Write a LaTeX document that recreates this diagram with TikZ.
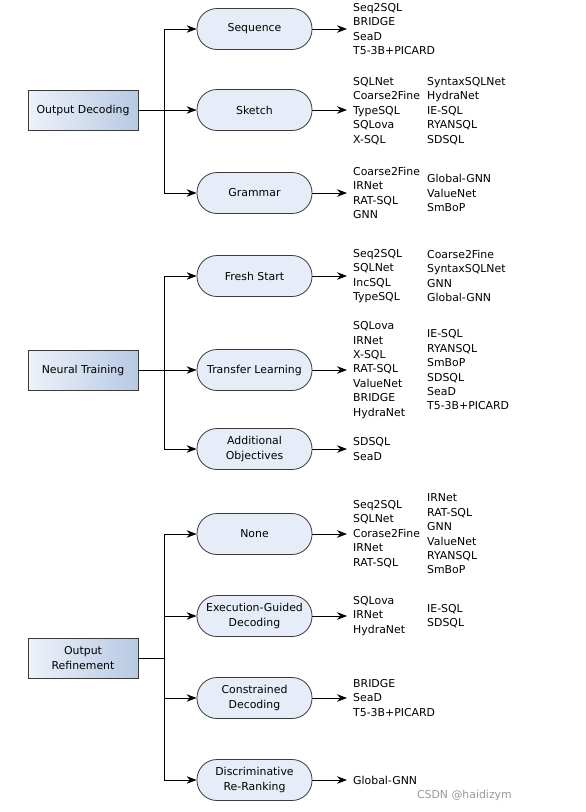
\documentclass[tikz,border=0pt]{standalone}
\usepackage{fontspec}
\setmainfont{DejaVu Sans}
\usetikzlibrary{arrows.meta}

\definecolor{boxline}{HTML}{3A3A3A}
\definecolor{boxfill}{HTML}{E7EDF8}
\definecolor{rootleft}{HTML}{EEF2FA}
\definecolor{rootright}{HTML}{B7C9E3}

\tikzset{
	root/.style={draw=boxline, line width=0.8pt, left color=rootleft, right color=rootright,
		minimum width=110pt, minimum height=40pt, align=center, inner sep=2pt},
	method/.style={draw=boxline, line width=0.8pt, fill=boxfill, rounded corners=20pt,
		minimum width=115pt, minimum height=41pt, align=center, inner sep=2pt},
	items/.style={anchor=west, align=left, inner xsep=6pt, inner ysep=0pt},
	arr/.style={-{Stealth[length=10pt,width=7.5pt]}, line width=0.8pt},
}

\begin{document}
\begin{tikzpicture}[x=1pt, y=-1pt, font=\fontsize{10.9}{14.4}\selectfont]
				\useasboundingbox (0,0) rectangle (586,812);
				
				% output decoding
				\node[root] (od) at (83,110) {Output Decoding};
				\node[method] (seq) at (254.5,29) {Sequence};
				\node[method] (sk) at (254.5,110) {Sketch};
				\node[method] (gr) at (254.5,193) {Grammar};
				
				\node[items] (seqa) at (347,29) {Seq2SQL\\BRIDGE\\SeaD\\T5-3B+PICARD};
				\node[items] (ska) at (347,111) {SQLNet\\Coarse2Fine\\TypeSQL\\SQLova\\X-SQL};
				\node[items] (skb) at (421,111) {SyntaxSQLNet\\HydraNet\\IE-SQL\\RYANSQL\\SDSQL};
				\node[items] (gra) at (347,193) {Coarse2Fine\\IRNet\\RAT-SQL\\GNN};
				\node[items] (grb) at (421,193) {Global-GNN\\ValueNet\\SmBoP};
				
				\draw[arr] (od.east) -- ++(26,0) |- (seq.west);
				\draw[arr] (od.east) -- (sk.west);
				\draw[arr] (od.east) -- ++(26,0) |- (gr.west);
				
				\draw[arr] (seq.east) -- (seqa.west);
				\draw[arr] (sk.east) -- (sk.east -| ska.west);
				\draw[arr] (gr.east) -- (gra.west);
				
				% neural training
				\node[root] (nt) at (83,370) {Neural Training};
				\node[method] (fs) at (254.5,276) {Fresh Start};
				\node[method] (tl) at (254.5,370) {Transfer Learning};
				\node[method] (ao) at (254.5,449) {Additional\\Objectives};
				
				\node[items] (fsa) at (347,276) {Seq2SQL\\SQLNet\\IncSQL\\TypeSQL};
				\node[items] (fsb) at (421,276) {Coarse2Fine\\SyntaxSQLNet\\GNN\\Global-GNN};
				\node[items] (tla) at (347,370) {SQLova\\IRNet\\X-SQL\\RAT-SQL\\ValueNet\\BRIDGE\\HydraNet};
				\node[items] (tlb) at (421,370) {IE-SQL\\RYANSQL\\SmBoP\\SDSQL\\SeaD\\T5-3B+PICARD};
				\node[items] (aoa) at (347,449) {SDSQL\\SeaD};
				
				\draw[arr] (nt.east) -- ++(26,0) |- (fs.west);
				\draw[arr] (nt.east) -- (tl.west);
				\draw[arr] (nt.east) -- ++(26,0) |- (ao.west);
				
				\draw[arr] (fs.east) -- (fsa.west);
				\draw[arr] (tl.east) -- (tla.west);
				\draw[arr] (ao.east) -- (aoa.west);
				
				% output refinement
				\node[root] (orf) at (83,658) {Output\\Refinement};
				\node[method] (no) at (254.5,534) {None};
				\node[method] (eg) at (254.5,616) {Execution-Guided\\Decoding};
				\node[method] (cd) at (254.5,698) {Constrained\\Decoding};
				\node[method] (dr) at (254.5,780) {Discriminative\\Re-Ranking};
				
				\node[items] (noa) at (347,534) {Seq2SQL\\SQLNet\\Corase2Fine\\IRNet\\RAT-SQL};
				\node[items] (nob) at (421,534) {IRNet\\RAT-SQL\\GNN\\ValueNet\\RYANSQL\\SmBoP};
				\node[items] (ega) at (347,616) {SQLova\\IRNet\\HydraNet};
				\node[items] (egb) at (421,616) {IE-SQL\\SDSQL};
				\node[items] (cda) at (347,698) {BRIDGE\\SeaD\\T5-3B+PICARD};
				\node[items] (dra) at (347,780) {Global-GNN};
				
				\draw[arr] (orf.east) -- ++(26,0) |- (no.west);
				\draw[arr] (orf.east) -- ++(26,0) |- (eg.west);
				\draw[arr] (orf.east) -- ++(26,0) |- (cd.west);
				\draw[arr] (orf.east) -- ++(26,0) |- (dr.west);
				
				\draw[arr] (no.east) -- (noa.west);
				\draw[arr] (eg.east) -- (ega.west);
				\draw[arr] (cd.east) -- (cda.west);
				\draw[arr] (dr.east) -- (dra.west);
				
				\node[text=black!40, anchor=east, inner sep=0pt] (mark) at (512,795) {CSDN @haidizym};
\end{tikzpicture}
\end{document}
